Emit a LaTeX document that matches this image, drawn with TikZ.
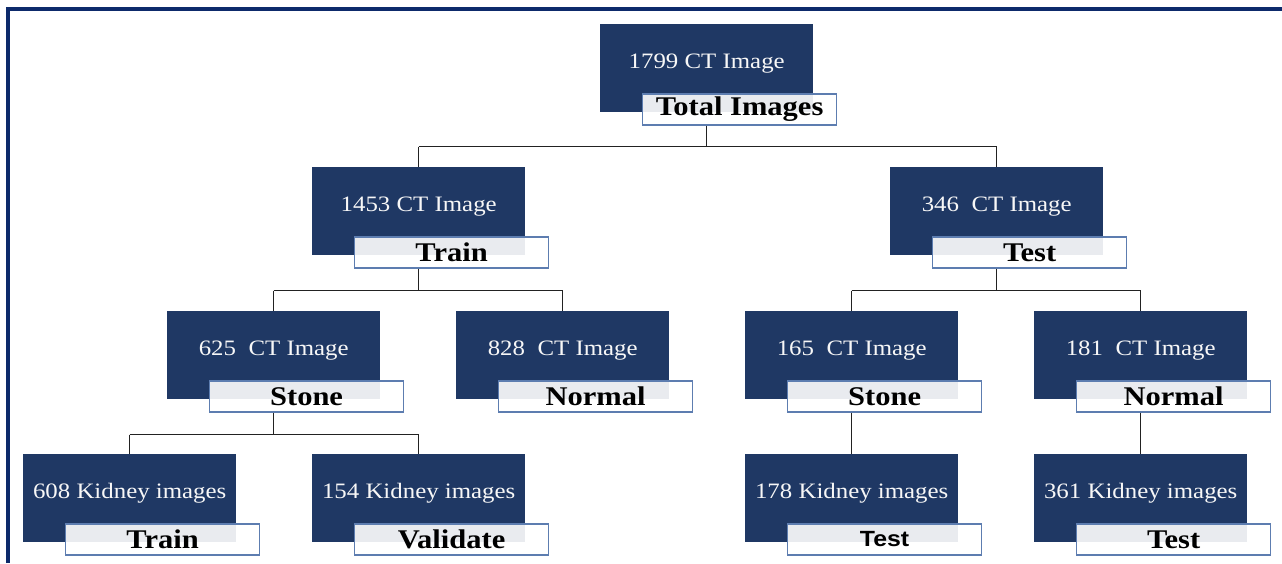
\documentclass[tikz,border=0pt]{standalone}
\usepackage{fontspec}
\setmainfont{Liberation Serif}
\newfontfamily\sansbold{Liberation Sans}
\usetikzlibrary{calc}

\definecolor{navy}{HTML}{1F3864}
\definecolor{framecol}{HTML}{0D2A6B}
\definecolor{labelline}{HTML}{5D7DB0}
\definecolor{linkcol}{HTML}{222222}

% horizontally widened text
\newcommand\wide[1]{\scalebox{1.13}[1]{#1}}

\tikzset{
  darkbox/.style={fill=navy, draw=none, minimum width=213pt, minimum height=88pt,
    inner sep=0pt, anchor=north west},
  toptext/.style={text=white!94!gray, font=\fontsize{22}{24}\selectfont, inner sep=0pt},
  labelbox/.style={fill=white, fill opacity=0.9, text opacity=1, draw=labelline,
    draw opacity=1, line width=1.2pt, minimum width=194pt, minimum height=31pt,
    inner sep=0pt, anchor=north west, text=black},
  serifb/.style={font=\fontsize{27}{29}\selectfont\bfseries},
  sansb/.style={font=\fontsize{22}{24}\selectfont\sansbold\bfseries},
  conn/.style={draw=linkcol, line width=1.5pt},
  framel/.style={draw=framecol, line width=3.6pt}
}

% #1 name, #2 x, #3 y (top-left), #4 count text, #5 label text, #6 label style
\newcommand\catbox[6]{%
  \node[darkbox] (#1) at (#2pt,-#3pt) {};
  \node[toptext] (#1t) at ([yshift=5pt]#1.center) {\wide{#4}};
  \node[labelbox, #6] (#1l) at ([xshift=42pt,yshift=19pt]#1.south west) {\wide{#5}};
}

\begin{document}
\begin{tikzpicture}[x=1pt,y=1pt]
\useasboundingbox (0,0) rectangle (1282,-563);

% outer frame (top and left edges)
\draw[framel] (8,-563) -- (8,-9) -- (1282,-9);

% level 0
\catbox{root}{600}{24}{1799 CT Image}{Total Images}{serifb}
% level 1
\catbox{trn}{312}{167}{1453 CT Image}{Train}{serifb}
\catbox{tst}{890}{167}{346\ \ CT Image}{Test}{serifb}
% level 2
\catbox{trs}{167}{311}{625\ \ CT Image}{Stone}{serifb}
\catbox{trnm}{456}{311}{828\ \ CT Image}{Normal}{serifb}
\catbox{tss}{745}{311}{165\ \ CT Image}{Stone}{serifb}
\catbox{tsnm}{1034}{311}{181\ \ CT Image}{Normal}{serifb}
% level 3
\catbox{ktr}{23}{454}{608 Kidney images}{Train}{serifb}
\catbox{kva}{312}{454}{154 Kidney images}{Validate}{serifb}
\catbox{kts}{745}{454}{178 Kidney images}{Test}{sansb}
\catbox{ktn}{1034}{454}{361 Kidney images}{Test}{serifb}

% connectors
\draw[conn] (rootl.south -| root.center) -- ++(0,-21) coordinate (b0);
\draw[conn] (b0 -| trn.north) -- (b0 -| tst.north);
\draw[conn] (b0 -| trn.north) -- (trn.north);
\draw[conn] (b0 -| tst.north) -- (tst.north);

\draw[conn] (trnl.south -| trn.center) -- ++(0,-22) coordinate (b1);
\draw[conn] (b1 -| trs.north) -- (b1 -| trnm.north);
\draw[conn] (b1 -| trs.north) -- (trs.north);
\draw[conn] (b1 -| trnm.north) -- (trnm.north);

\draw[conn] (tstl.south -| tst.center) -- ++(0,-22) coordinate (b2);
\draw[conn] (b2 -| tss.north) -- (b2 -| tsnm.north);
\draw[conn] (b2 -| tss.north) -- (tss.north);
\draw[conn] (b2 -| tsnm.north) -- (tsnm.north);

\draw[conn] (trsl.south -| trs.center) -- ++(0,-22) coordinate (b3);
\draw[conn] (b3 -| ktr.north) -- (b3 -| kva.north);
\draw[conn] (b3 -| ktr.north) -- (ktr.north);
\draw[conn] (b3 -| kva.north) -- (kva.north);

\draw[conn] (tssl.south -| tss.center) -- (kts.north);
\draw[conn] (tsnml.south -| tsnm.center) -- (ktn.north);
\end{tikzpicture}
\end{document}
